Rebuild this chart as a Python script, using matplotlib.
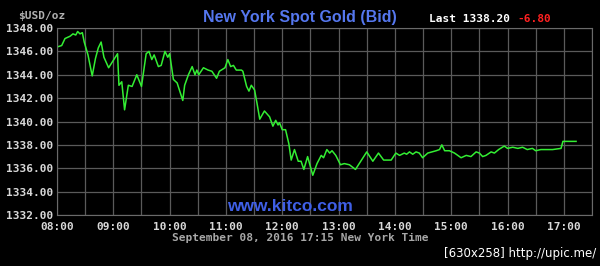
import numpy as np
import matplotlib.pyplot as plt

# minutes after 08:00 and bid price
minutes = [1, 5, 8.5, 14, 17, 20, 22, 24.5, 27, 29, 33, 37.5, 41, 44, 47, 50, 55, 59,
           64.5, 66, 69, 72, 76, 80, 85, 90, 95, 98, 101, 103.5, 108, 111, 115, 118,
           120, 124, 128, 134, 136, 140, 144, 147, 149, 151, 156, 161, 165, 170, 173,
           179, 182, 185, 188, 191, 196.5, 198, 202, 204.5, 207, 210.5, 213, 216, 221,
           226.5, 230, 233, 235.5, 237, 240, 243.5, 247, 249.5, 253, 257, 260, 263,
           267, 272.5, 277, 281.5, 284, 287.5, 290.5, 293, 297, 302, 306, 311.5, 318,
           322, 330, 336.5, 342.5, 348, 356, 361, 365, 370, 372.5, 375.5, 379, 382.5,
           386, 389.5, 395, 399.5, 404, 407.5, 410, 413, 418, 423.5, 430.5, 436, 441,
           446.5, 450, 453.5, 457, 462.5, 466, 470.5, 476.5, 480, 485.5, 491, 496,
           501, 506.5, 510, 515.5, 521, 528, 537, 539, 553]
price = [1346.4, 1346.5, 1347.1, 1347.3, 1347.5, 1347.4, 1347.7, 1347.5, 1347.6, 1346.8,
         1345.7, 1343.9, 1345.4, 1346.3, 1346.8, 1345.5, 1344.6, 1345.1,
         1345.8, 1343.1, 1343.4, 1341.0, 1343.1, 1343.0, 1344.0, 1343.0, 1345.8, 1346.0,
         1345.3, 1345.7, 1344.7, 1344.8, 1346.0, 1345.5,
         1345.8, 1343.6, 1343.3, 1341.8, 1343.1, 1344.0, 1344.7, 1344.0, 1344.4, 1344.0,
         1344.6, 1344.4, 1344.3, 1343.7, 1344.3,
         1344.6, 1345.3, 1344.7, 1344.8, 1344.4, 1344.4, 1344.3, 1343.0, 1342.6, 1343.1,
         1342.7, 1341.6, 1340.2, 1340.9,
         1340.4, 1339.6, 1340.1, 1339.7, 1339.9, 1339.3, 1339.3, 1338.1, 1336.7, 1337.6,
         1336.6, 1336.6, 1335.9,
         1337.0, 1335.4, 1336.4, 1337.1, 1336.9, 1337.6, 1337.3, 1337.5, 1337.1, 1336.3,
         1336.4, 1336.3, 1335.9,
         1336.4, 1337.4, 1336.6, 1337.3, 1336.7, 1336.7, 1337.3, 1337.1, 1337.3, 1337.2,
         1337.4, 1337.2, 1337.4,
         1337.3, 1336.9, 1337.3, 1337.4, 1337.5, 1337.6, 1338.0, 1337.5, 1337.5, 1337.3,
         1336.9, 1337.1, 1337.0,
         1337.4, 1337.3, 1337.0, 1337.1, 1337.4, 1337.3, 1337.6, 1337.9, 1337.7, 1337.8,
         1337.7, 1337.8,
         1337.6, 1337.7, 1337.5, 1337.6, 1337.6, 1337.6, 1337.7, 1338.3, 1338.3]

hour_labels = ["08:00", "09:00", "10:00", "11:00", "12:00", "13:00", "14:00",
               "15:00", "16:00", "17:00"]
y_ticks = [1332, 1334, 1336, 1338, 1340, 1342, 1344, 1346, 1348]

mono = "DejaVu Sans Mono"
fig = plt.figure(figsize=(6, 2.66), dpi=100, facecolor="black")
ax = fig.add_axes([0.095, 0.1917, 0.8917, 0.703])
ax.set_facecolor("black")

ax.plot(minutes, price, color="#33ee33", linewidth=1.1)

ax.set_xlim(0, 570)
ax.set_ylim(1332, 1348)
ax.set_xticks([i * 60 for i in range(len(hour_labels))])
ax.set_xticks([30 + i * 60 for i in range(len(hour_labels))], minor=True)
ax.set_xticklabels(hour_labels)
ax.set_yticks(y_ticks)
ax.set_yticklabels(["%.2f" % v for v in y_ticks])
ax.grid(True, which="both", color="#5a5a5a", linewidth=0.9)
ax.tick_params(which="both", length=0, colors="#d8d8d8", labelsize=8, pad=3)
ax.tick_params(axis="x", pad=5)
for lab in ax.get_xticklabels() + ax.get_yticklabels():
    lab.set_fontfamily(mono)
    lab.set_fontweight("bold")
for s in ax.spines.values():
    s.set_color("#6a6a6a")

fig.text(0.5, 0.935, "New York Spot Gold (Bid)", color="#5577ee", fontsize=11.5,
         fontfamily="Liberation Sans", fontweight="bold", ha="center", va="center")
fig.text(0.03, 0.94, "$USD/oz", color="#b0b0b0", fontsize=8, fontfamily=mono,
         fontweight="bold", ha="left", va="center")
fig.text(0.715, 0.928, "Last 1338.20", color="white", fontsize=8, fontfamily=mono,
         fontweight="bold", ha="left", va="center")
fig.text(0.862, 0.928, "-6.80", color="#ff2020", fontsize=8, fontfamily=mono,
         fontweight="bold", ha="left", va="center")
fig.text(0.483, 0.222, "www.kitco.com", color="#3f5fe6", fontsize=12.5,
         fontfamily="Liberation Sans", fontweight="bold", ha="center", va="center")
fig.text(0.5, 0.105, "September 08, 2016 17:15 New York Time", color="#a8a8a8",
         fontsize=8, fontfamily=mono, fontweight="bold", ha="center", va="center")
fig.text(0.993, 0.048, "[630x258] http://upic.me/", color="white", fontsize=8.5,
         fontfamily="DejaVu Sans", ha="right", va="center")

fig.savefig("out.png", dpi=100, facecolor="black")
